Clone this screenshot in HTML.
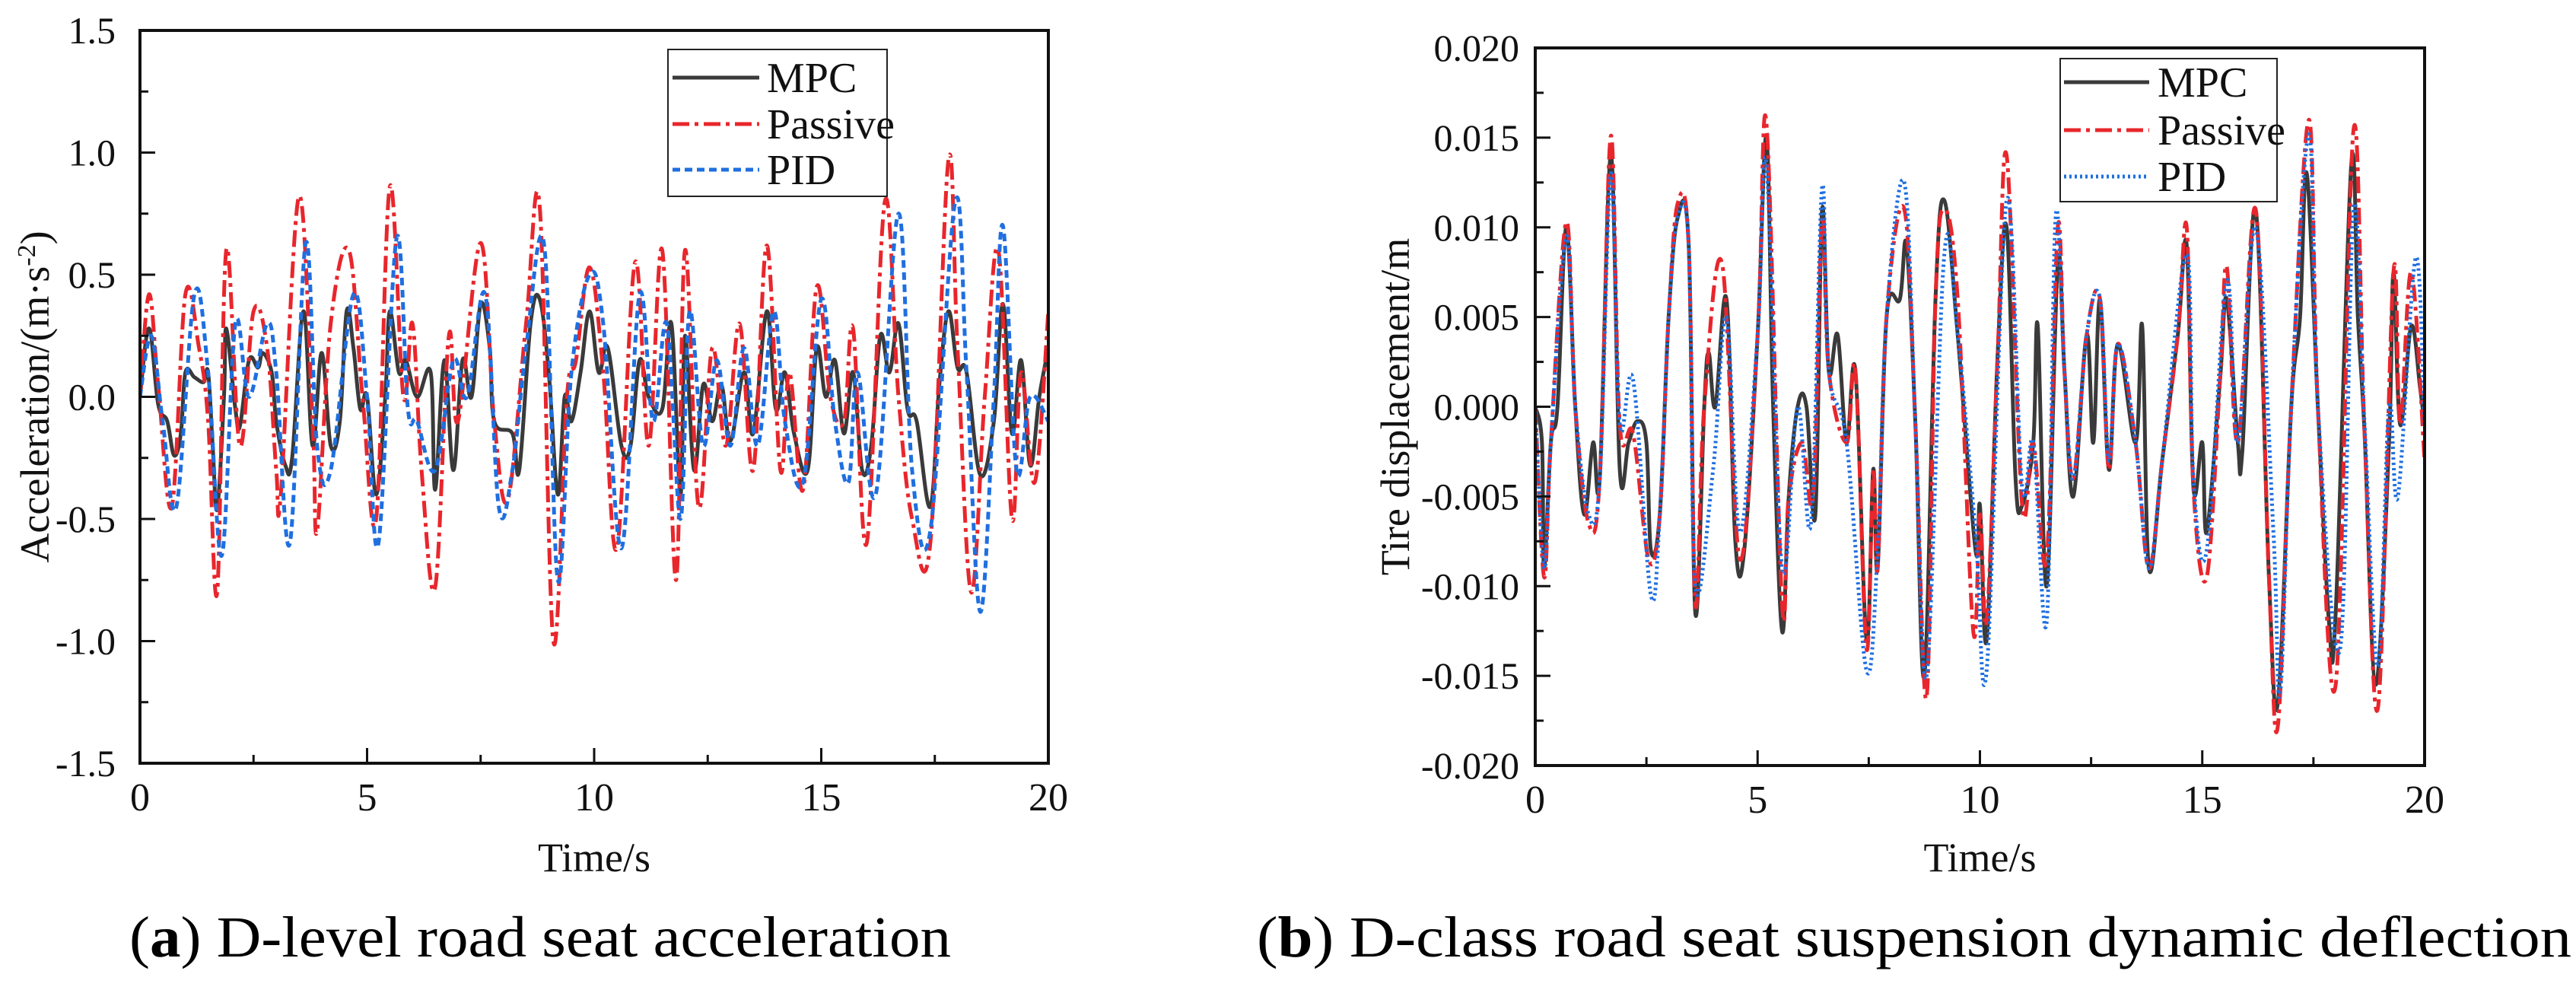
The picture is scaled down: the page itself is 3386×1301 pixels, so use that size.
<!DOCTYPE html>
<html><head><meta charset="utf-8"><style>
html,body{margin:0;padding:0;background:#fff;}
svg{display:block;}
svg text{font-family:"Liberation Serif","Times New Roman",serif;}
</style></head><body>
<svg id="fig" width="3386" height="1301" viewBox="0 0 3386 1301" xmlns="http://www.w3.org/2000/svg" font-family="Liberation Serif, serif"></svg>
<script>
// ---------- Chart (a) data ----------
const aMpcT=[0,0.2,0.4,0.6,0.75,0.9,1.0,1.2,1.4,1.5,1.6,1.7,1.85,1.9,2.1,2.2,2.4,2.6,2.7,2.9,3.0,3.2,3.35,3.6,3.8,4.0,4.2,4.4,4.55,4.7,4.85,5.0,5.2,5.4,5.5,5.7,5.85,6.1,6.4,6.5,6.7,6.9,7.1,7.3,7.5,7.7,7.8,8.2,8.35,8.6,8.8,9.0,9.2,9.35,9.5,9.7,9.9,10.1,10.3,10.6,10.8,11.0,11.2,11.5,11.7,11.9,12.0,12.2,12.4,12.6,12.8,13.0,13.3,13.5,13.8,14.0,14.2,14.4,14.7,14.9,15.1,15.3,15.5,15.7,15.9,16.1,16.3,16.5,16.7,16.9,17.1,17.4,17.6,17.8,18.0,18.2,18.5,18.8,19.0,19.2,19.4,19.6,19.8,20];
const aMpcV=[0,0.28,-0.03,-0.1,-0.24,-0.15,0.1,0.08,0.06,0.1,-0.2,-0.46,0.0,0.28,-0.05,-0.12,0.15,0.12,0.18,0.1,-0.1,-0.28,-0.25,0.35,-0.2,0.18,-0.2,-0.1,0.35,0.2,-0.05,0.0,-0.4,0.0,0.35,0.1,0.15,0.0,0.1,-0.38,0.15,-0.3,0.15,0.0,0.38,0.2,-0.1,-0.15,-0.3,0.3,0.4,0.1,-0.4,0.0,-0.1,0.1,0.35,0.1,0.2,-0.2,-0.2,0.15,0.0,-0.05,0.3,-0.4,0.25,-0.3,0.05,-0.1,0.05,-0.18,0.1,-0.15,0.35,-0.05,0.1,-0.15,-0.3,0.2,0.0,0.15,-0.15,0.1,-0.3,-0.2,0.25,0.1,0.3,-0.05,-0.1,-0.45,0.05,0.35,0.12,0.1,-0.32,-0.1,0.38,-0.15,0.15,-0.28,0.0,0.2];
const aPasT=[0,0.2,0.4,0.7,1.0,1.3,1.5,1.7,1.9,2.2,2.5,2.8,3.0,3.1,3.5,3.8,3.9,4.2,4.6,4.9,5.2,5.5,5.8,6.0,6.2,6.5,6.8,7.0,7.5,7.8,8.1,8.5,8.8,9.1,9.4,9.6,9.9,10.2,10.5,10.9,11.2,11.5,11.8,12.0,12.3,12.6,12.9,13.2,13.5,13.8,14.1,14.3,14.6,14.9,15.2,15.5,15.7,16.0,16.4,16.7,17.0,17.4,17.8,18.0,18.3,18.6,18.9,19.2,19.4,19.7,20];
const aPasV=[0,0.42,0.05,-0.45,0.42,0.2,-0.1,-0.8,0.6,-0.2,0.35,0.2,-0.3,-0.4,0.82,-0.1,-0.55,0.3,0.6,0.0,-0.5,0.86,0.0,0.3,-0.3,-0.78,0.25,-0.1,0.63,-0.1,-0.42,0.3,0.78,-1.0,0.0,0.15,0.53,0.1,-0.62,0.55,-0.2,0.6,-0.75,0.6,-0.45,0.2,-0.2,0.3,-0.3,0.62,-0.3,0.1,-0.38,0.45,0.0,-0.1,0.28,-0.6,0.8,0.0,-0.5,-0.6,0.97,0.2,-0.8,0.0,0.6,-0.5,0.1,-0.35,0.35];
const aPidT=[0,0.25,0.5,0.8,1.2,1.5,1.8,2.1,2.4,2.8,3.0,3.3,3.65,3.9,4.2,4.7,5.0,5.25,5.65,5.9,6.1,6.5,6.9,7.2,7.6,7.9,8.2,8.5,8.9,9.2,9.5,9.9,10.2,10.6,11.0,11.3,11.6,11.9,12.1,12.4,12.7,13.0,13.3,13.6,13.95,14.2,14.6,15.0,15.3,15.6,15.8,16.2,16.7,17.0,17.4,17.95,18.2,18.5,18.8,19.0,19.3,19.6,20];
const aPidV=[0,0.25,-0.1,-0.45,0.42,0.1,-0.65,0.3,0.0,0.3,0.1,-0.6,0.63,-0.2,-0.3,0.42,0.0,-0.6,0.65,-0.05,-0.1,-0.3,0.15,0.0,0.42,-0.45,-0.3,0.2,0.62,-0.75,0.1,0.5,0.3,-0.62,0.42,-0.1,0.3,-0.5,0.35,-0.2,0.15,-0.2,0.2,-0.2,0.35,-0.1,-0.35,0.4,-0.1,-0.35,0.1,-0.4,0.75,-0.3,-0.55,0.8,0.1,-0.88,0.0,0.7,-0.3,0.0,-0.1];
const aYTicks=[-1.5,-1.0,-0.5,0.0,0.5,1.0,1.5];
const aYLabels=["-1.5","-1.0","-0.5","0.0","0.5","1.0","1.5"];
const xTicks=[0,5,10,15,20];
const xLabels=["0","5","10","15","20"];

// ---------- Chart (b) data ----------
const bMpcT=[0,0.15,0.2,0.35,0.5,0.7,0.9,1.1,1.3,1.45,1.7,1.9,2.1,2.3,2.5,2.6,2.8,3.0,3.2,3.45,3.6,3.8,3.9,4.05,4.3,4.5,4.7,5.0,5.2,5.35,5.55,5.7,5.9,6.1,6.3,6.45,6.6,6.8,7.0,7.2,7.45,7.6,7.7,7.9,8.2,8.35,8.55,8.75,9.0,9.2,9.5,9.9,10.0,10.15,10.4,10.6,10.8,10.95,11.2,11.3,11.5,11.75,11.9,12.1,12.4,12.55,12.7,12.9,13.1,13.5,13.65,13.8,14.1,14.45,14.65,14.8,15.0,15.1,15.4,15.55,15.8,15.9,16.2,16.5,16.7,17.0,17.2,17.35,17.6,17.85,18.0,18.35,18.5,18.65,18.9,19.2,19.3,19.45,19.7,19.9,20];
const bMpcV=[0,-0.002,-0.009,-0.002,0.0,0.01,0.0,-0.006,-0.002,-0.004,0.014,-0.0035,-0.002,-0.0008,-0.002,-0.008,-0.006,0.005,0.0105,0.009,-0.0115,0.0,0.003,0.0,0.006,-0.0075,-0.008,0.004,0.015,0.0,-0.0125,-0.005,0.0,0.0,-0.006,0.011,0.002,0.004,-0.002,0.002,-0.013,-0.0035,-0.009,0.005,0.006,0.009,-0.001,-0.015,0.006,0.0115,0.004,-0.008,-0.0055,-0.013,0.003,0.01,-0.004,-0.0055,-0.002,0.0045,-0.01,0.008,0.002,-0.005,0.004,-0.002,0.006,-0.0035,0.0035,-0.002,0.0045,-0.009,-0.003,0.004,0.009,-0.0045,-0.002,-0.007,0.0015,0.006,-0.002,-0.0025,0.011,-0.0095,-0.0165,0.0,0.005,0.013,0.0,-0.012,-0.0115,0.0135,0.005,-0.0015,-0.0155,-0.002,0.0075,-0.001,0.0045,0.001,-0.001];
const bPasT=[0,0.2,0.35,0.7,0.9,1.2,1.45,1.7,1.9,2.2,2.55,2.8,3.0,3.2,3.45,3.6,3.8,4.2,4.6,5.0,5.2,5.55,5.7,6.0,6.25,6.45,6.6,7.0,7.2,7.45,7.6,7.7,7.9,8.3,8.55,8.8,9.0,9.2,9.5,9.85,10.0,10.15,10.4,10.6,10.95,11.2,11.5,11.75,11.9,12.1,12.4,12.7,12.9,13.1,13.5,13.8,14.1,14.45,14.65,14.8,15.1,15.4,15.55,15.8,16.2,16.5,16.7,17.0,17.4,17.6,18.0,18.4,18.65,18.95,19.3,19.45,19.7,20];
const bPasV=[0,-0.0095,-0.002,0.0103,0.0,-0.0065,-0.004,0.0151,-0.001,-0.0015,-0.0085,-0.006,0.005,0.0113,0.009,-0.011,0.0,0.008,-0.0085,0.004,0.0158,-0.011,-0.005,-0.002,-0.005,0.0105,0.002,-0.002,0.002,-0.0135,-0.0035,-0.009,0.005,0.011,-0.001,-0.0162,0.006,0.011,0.006,-0.0125,-0.006,-0.012,0.003,0.014,-0.0055,-0.002,-0.0085,0.01,0.002,-0.004,0.004,0.006,-0.0035,0.0035,-0.002,-0.009,-0.003,0.004,0.01,-0.0045,-0.0095,0.0015,0.0078,-0.002,0.011,-0.0095,-0.0178,0.0,0.016,0.0,-0.0155,0.0154,-0.0015,-0.0168,0.0075,-0.001,0.0075,-0.003];
const bPidT=[0,0.2,0.35,0.7,0.9,1.2,1.45,1.7,1.9,2.2,2.6,2.8,3.0,3.2,3.45,3.6,4.0,4.3,4.6,5.0,5.2,5.55,5.9,6.2,6.45,6.6,7.0,7.45,7.7,7.9,8.3,8.55,8.8,9.2,9.5,9.9,10.15,10.6,10.95,11.2,11.5,11.7,11.9,12.1,12.4,12.7,12.9,13.1,13.5,13.8,14.1,14.65,14.8,15.1,15.55,15.8,16.2,16.6,16.75,17.0,17.4,17.6,18.1,18.4,18.65,18.95,19.2,19.4,19.8,20];
const bPidV=[0,-0.009,-0.002,0.0095,0.0,-0.006,-0.004,0.013,-0.001,0.0015,-0.0105,-0.006,0.005,0.0105,0.009,-0.01,-0.0035,0.005,-0.007,0.004,0.0135,-0.009,0.0,-0.0065,0.0122,0.002,-0.002,-0.0147,-0.008,0.005,0.0125,-0.001,-0.015,0.0085,0.004,-0.007,-0.0147,0.0115,-0.0045,-0.002,-0.012,0.0105,0.002,-0.004,0.004,0.006,-0.003,0.0035,-0.002,-0.009,-0.003,0.0085,-0.004,-0.008,0.007,-0.002,0.01,-0.007,-0.016,0.0,0.0152,0.0,-0.0135,0.011,-0.001,-0.0145,0.0,-0.005,0.0083,-0.001];
const bYTicks=[-0.02,-0.015,-0.01,-0.005,0,0.005,0.01,0.015,0.02];
const bYLabels=["-0.020","-0.015","-0.010","-0.005","0.000","0.005","0.010","0.015","0.020"];

const NS="http://www.w3.org/2000/svg";
const FONT='Liberation Serif, serif';
const svg=document.getElementById('fig');
function mk(tag,attrs,parent){const e=document.createElementNS(NS,tag);for(const k in attrs)e.setAttribute(k,attrs[k]);if(tag==='text')e.setAttribute('font-family',FONT);(parent||svg).appendChild(e);return e;}

function smoothPath(pts){
  let d='M'+pts[0][0].toFixed(1)+' '+pts[0][1].toFixed(1);
  for(let i=0;i<pts.length-1;i++){
    const p0=pts[Math.max(0,i-1)],p1=pts[i],p2=pts[i+1],p3=pts[Math.min(pts.length-1,i+2)];
    const k=0.18;
    const c1=[p1[0]+(p2[0]-p0[0])*k,p1[1]+(p2[1]-p0[1])*k];
    const c2=[p2[0]-(p3[0]-p1[0])*k,p2[1]-(p3[1]-p1[1])*k];
    d+='C'+c1[0].toFixed(1)+' '+c1[1].toFixed(1)+' '+c2[0].toFixed(1)+' '+c2[1].toFixed(1)+' '+p2[0].toFixed(1)+' '+p2[1].toFixed(1);
  }
  return d;
}

function chart(cfg){
  const g=mk('g',{});
  
  
  const {L,R,T,B,ymin,ymax}=cfg;
  const sx=t=>L+(t-0)/20*(R-L);
  const sy=v=>B-(v-ymin)/(ymax-ymin)*(B-T);
  const clip='clip-'+cfg.name;
  const cp=mk('clipPath',{id:clip},g);mk('rect',{x:L,y:T,width:R-L,height:B-T},cp);
  cfg.series.forEach(s=>{
    const pts=s.t.map((t,i)=>[sx(t),sy(s.v[i])]);
    const p=mk('path',{d:smoothPath(pts),fill:'none',stroke:s.color,'stroke-width':5,'stroke-dasharray':s.dash,'stroke-linejoin':'round','clip-path':'url(#'+clip+')'},g);
    
    
  });
  const fr=mk('rect',{x:L,y:T,width:R-L,height:B-T,fill:'none',stroke:'#111','stroke-width':4},g);
  
  
  cfg.yTicks.forEach((v,i)=>{
    const y=sy(v);
    mk('line',{x1:L,x2:L+20,y1:y,y2:y,stroke:'#111','stroke-width':3},g);
    if(i<cfg.yTicks.length-1){const ym=sy((v+cfg.yTicks[i+1])/2);mk('line',{x1:L,x2:L+11,y1:ym,y2:ym,stroke:'#111','stroke-width':3},g);}
    const tx=mk('text',{x:cfg.ylabX,y:y+17,'text-anchor':'end','font-size':50,fill:'#111'},g);
    tx.textContent=cfg.yLabels[i];
    
    
  });
  xTicks.forEach((t,i)=>{
    const x=sx(t);
    mk('line',{x1:x,x2:x,y1:B,y2:B-20,stroke:'#111','stroke-width':3},g);
    if(i<xTicks.length-1){const xm=sx(t+2.5);mk('line',{x1:xm,x2:xm,y1:B,y2:B-11,stroke:'#111','stroke-width':3},g);}
    const tx=mk('text',{x:x,y:B+62,'text-anchor':'middle','font-size':52,fill:'#111'},g);
    tx.textContent=xLabels[i];
    
    
  });
  const xt=mk('text',{x:(L+R)/2,y:1145,'text-anchor':'middle','font-size':54,fill:'#111'},g);
  xt.textContent='Time/s';
  
  
  const yt=mk('text',{x:0,y:0,'text-anchor':'middle','font-size':54,fill:'#111',transform:'translate('+cfg.ytitleX+','+(T+B)/2+') rotate(-90)'},g);
  yt.innerHTML=cfg.ytitle;
  
  
  const lg=cfg.leg;
  const lgg=mk('g',{},g);
  
  
  mk('rect',{x:lg.x,y:lg.y,width:lg.w,height:lg.h,fill:'#fff',stroke:'#222','stroke-width':2},lgg);
  cfg.series.forEach((s,i)=>{
    const y=lg.rows[i];
    const e=mk('g',{},lgg);
    
    
    mk('line',{x1:lg.lx1,x2:lg.lx2,y1:y,y2:y,stroke:s.color,'stroke-width':5,'stroke-dasharray':s.dash},e);
    const t=mk('text',{x:lg.tx,y:y+19,'font-size':56,fill:'#111'},e);
    t.textContent=s.label;
  });
}

chart({name:'chart-a',L:184,R:1378,T:40,B:1003,ymin:-1.5,ymax:1.5,yTicks:aYTicks,yLabels:aYLabels,ylabX:152,ytitleX:64,
  ytitle:'Acceleration/(m·s<tspan dy="-18" font-size="34">-2</tspan><tspan dy="18">)</tspan>',
  leg:{x:878,y:65,w:288,h:193,rows:[102,163,223],lx1:884,lx2:998,tx:1008},
  series:[
    {t:aMpcT,v:aMpcV,color:'#3a3a3a',dash:'none',label:'MPC',dname:'series-mpc'},
    {t:aPasT,v:aPasV,color:'#e8262c',dash:'22 7 5 7',label:'Passive',dname:'series-passive'},
    {t:aPidT,v:aPidV,color:'#1f6fe0',dash:'10 6',label:'PID',dname:'series-pid'}
  ]});
chart({name:'chart-b',L:2018,R:3187,T:63,B:1006,ymin:-0.02,ymax:0.02,yTicks:bYTicks,yLabels:bYLabels,ylabX:1997,ytitleX:1852,
  ytitle:'Tire displacement/m',
  leg:{x:2708,y:77,w:285,h:188,rows:[108,171,232],lx1:2713,lx2:2825,tx:2836},
  series:[
    {t:bMpcT,v:bMpcV,color:'#3a3a3a',dash:'none',label:'MPC',dname:'series-mpc'},
    {t:bPasT,v:bPasV,color:'#e8262c',dash:'22 7 5 7',label:'Passive',dname:'series-passive'},
    {t:bPidT,v:bPidV,color:'#1f6fe0',dash:'3 4',label:'PID',dname:'series-pid'}
  ]});

const c1=mk('text',{x:170,y:1257,'font-size':76,fill:'#000',textLength:1080,lengthAdjust:'spacingAndGlyphs'});
c1.innerHTML='(<tspan font-weight="bold">a</tspan>) D-level road seat acceleration';


const c2=mk('text',{x:1652,y:1257,'font-size':76,fill:'#000',textLength:1728,lengthAdjust:'spacingAndGlyphs'});
c2.innerHTML='(<tspan font-weight="bold">b</tspan>) D-class road seat suspension dynamic deflection';


</script>
</body></html>
